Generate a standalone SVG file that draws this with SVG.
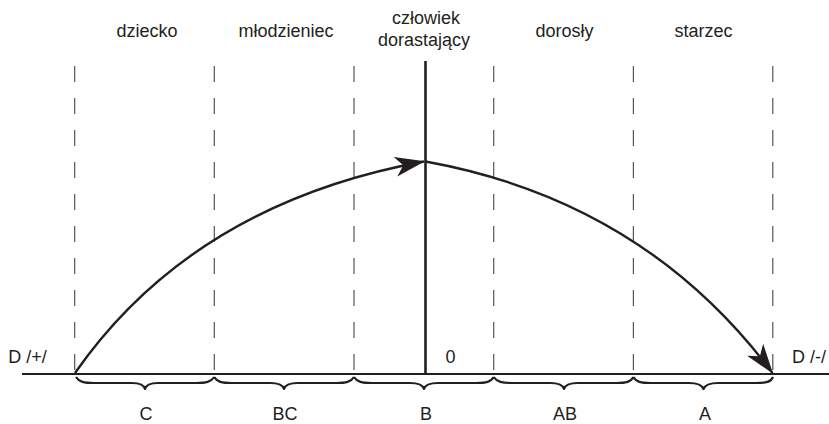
<svg xmlns="http://www.w3.org/2000/svg" width="829" height="424" viewBox="0 0 829 424">
<style>
text{font-family:"Liberation Sans",Arial,sans-serif;font-size:18px;fill:#231f20;text-anchor:middle}
.dash{stroke:#555;stroke-width:1.2;stroke-dasharray:16 16;fill:none}
.axis{stroke:#231f20;stroke-width:2.2;fill:none}
.curve{stroke:#231f20;stroke-width:2.4;fill:none;marker-end:url(#arr)}
.brace{stroke:#231f20;stroke-width:2.2;fill:none;stroke-linejoin:round}
</style>
<defs>
<marker id="arr" markerUnits="userSpaceOnUse" markerWidth="40" markerHeight="30" refX="0" refY="0" viewBox="-32 -15 40 30" orient="auto" overflow="visible">
<path d="M1,0 L-29,-10 L-21,0 L-29,10 Z" fill="#231f20"/>
</marker>
</defs>
<g id="grid">
<line class="dash" x1="74.7" y1="66" x2="74.7" y2="373"/>
<line class="dash" x1="214.3" y1="66" x2="214.3" y2="373"/>
<line class="dash" x1="354" y1="66" x2="354" y2="373"/>
<line class="dash" x1="493.7" y1="66" x2="493.7" y2="373"/>
<line class="dash" x1="633.4" y1="66" x2="633.4" y2="373"/>
<line class="dash" x1="772.8" y1="66" x2="772.8" y2="373"/>
</g>
<g id="axes">
<line class="axis" x1="22" y1="374" x2="829" y2="374"/>
<line class="axis" x1="425.5" y1="61" x2="425.5" y2="374" style="stroke-width:2.6"/>
</g>
<g id="connectors">
<path class="curve" d="M75,373 Q193,204 424,161.5"/>
<path class="curve" d="M425.5,161.5 Q644,201 772.5,373"/>
</g>
<g id="braces">
<path class="brace" d="M76,377 C79,382 84,383 94,383 L132,383 C140,383 144,385 145,389 C146,385 150,383 158,383 L196,383 C206,383 211,382 214.3,377"/>
<path class="brace" d="M214.3,377 C217,382 222,383 232,383 L270,383 C278,383 283,385 284,389 C285,385 290,383 298,383 L336,383 C346,383 351,382 354,377"/>
<path class="brace" d="M354,377 C357,382 362,383 372,383 L410,383 C418,383 423,385 424,389 C425,385 430,383 438,383 L476,383 C486,383 491,382 493.7,377"/>
<path class="brace" d="M493.7,377 C497,382 502,383 512,383 L550,383 C558,383 563,385 564,389 C565,385 570,383 578,383 L616,383 C626,383 631,382 633.4,377"/>
<path class="brace" d="M633.4,377 C636,382 641,383 651,383 L689,383 C697,383 702,385 703.5,389 C705,385 710,383 718,383 L756,383 C766,383 771,382 773,377"/>
</g>
<g id="top-labels">
<text id="t-dziecko" x="147" y="37">dziecko</text>
<text id="t-mlodzieniec" x="286" y="37">młodzieniec</text>
<text id="t-czlowiek" x="426" y="24"><tspan x="426">człowiek</tspan><tspan x="424" y="46">dorastający</tspan></text>
<text id="t-dorosly" x="564.5" y="37">dorosły</text>
<text id="t-starzec" x="703.5" y="37">starzec</text>
</g>
<g id="side-labels">
<text x="27.5" y="363">D /+/</text>
<text x="450.5" y="363">0</text>
<text x="792" y="363" style="text-anchor:start">D /-/</text>
</g>
<g id="bottom-labels">
<text x="146" y="420">C</text>
<text x="285" y="420">BC</text>
<text x="426" y="420">B</text>
<text x="565" y="420">AB</text>
<text x="705" y="420">A</text>
</g>
</svg>
